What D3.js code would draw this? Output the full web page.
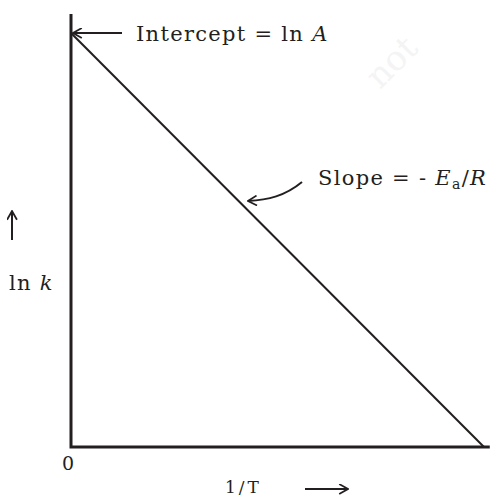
<!DOCTYPE html>
<html>
  <head>
    <meta charset="utf-8">
    <title>Arrhenius plot</title>
    <script src="https://d3js.org/d3.v7.min.js"></script>
    <style>
      body { margin: 0; background: #fff; }
      text { font-family: "DejaVu Serif", "Liberation Serif", serif; fill: #231f20; }
    </style>
  </head>
  <body>
    <div id="chart"></div>
    <script>
      // data (arbitrary units)
      const invT = [0, 1];          // 1/T
      const lnK = [1, 0];           // ln k, intercept = ln A at 1/T = 0
      const xExtent = [0, 1.014];   // x axis runs slightly past the line end
      const yExtent = [0, 1.046];   // y axis runs above the intercept
      const origin = "0";

      const width = 490, height = 497;
      const svg = d3.select("#chart")
        .append("svg")
        .attr("width", width)
        .attr("height", height);

      const xScale = d3.scaleLinear().domain([0, 1]).range([71, 484]);
      const yScale = d3.scaleLinear().domain([0, 1]).range([447, 33]);
      const ink = "#231f20";

      svg.append("defs").append("marker")
        .attr("id", "head")
        .attr("viewBox", "0 0 10 10")
        .attr("refX", 9).attr("refY", 5)
        .attr("markerWidth", 11).attr("markerHeight", 11)
        .attr("markerUnits", "userSpaceOnUse")
        .attr("orient", "auto")
        .append("path")
        .attr("d", "M1,0.5 L9,5 L1,9.5")
        .attr("fill", "none")
        .attr("stroke", ink)
        .attr("stroke-width", 1.6);

      // faint watermark
      svg.append("text")
        .attr("transform", "translate(380,90) rotate(-45)")
        .attr("font-family", "Roboto, sans-serif")
        .attr("font-size", 34)
        .style("fill", "#f4f4f4")
        .text("not");

      // axes
      svg.append("path")
        .attr("d", d3.line()([[xScale(0), yScale(yExtent[1])], [xScale(0), yScale(0)], [xScale(xExtent[1]), yScale(0)]]))
        .attr("fill", "none")
        .attr("stroke", ink)
        .attr("stroke-width", 3);

      // the straight line
      svg.append("path")
        .datum(invT.map((x, i) => [x, lnK[i]]))
        .attr("d", d3.line().x(d => xScale(d[0])).y(d => yScale(d[1])))
        .attr("fill", "none")
        .attr("stroke", ink)
        .attr("stroke-width", 2);

      // intercept annotation
      svg.append("line")
        .attr("x1", 122).attr("y1", yScale(lnK[0]))
        .attr("x2", xScale(0) + 2).attr("y2", yScale(lnK[0]))
        .attr("stroke", ink).attr("stroke-width", 2)
        .attr("marker-end", "url(#head)");
      const ic = svg.append("text")
        .attr("x", 136).attr("y", yScale(lnK[0]) + 8)
        .attr("font-size", 21)
        .attr("letter-spacing", 1.3);
      ic.append("tspan").text("Intercept = ln ");
      ic.append("tspan").attr("font-style", "italic").text("A");

      // slope annotation
      svg.append("path")
        .attr("d", "M302,182 C285,196 268,200 248,201")
        .attr("fill", "none")
        .attr("stroke", ink).attr("stroke-width", 2)
        .attr("marker-end", "url(#head)");
      const sl = svg.append("text")
        .attr("x", 318).attr("y", 185)
        .attr("font-size", 21)
        .attr("letter-spacing", 1.3);
      sl.append("tspan").text("Slope = - ");
      sl.append("tspan").attr("font-style", "italic").text("E");
      sl.append("tspan").attr("font-size", 14).attr("dy", 4).text("a");
      sl.append("tspan").attr("dy", -4).text("/");
      sl.append("tspan").attr("font-style", "italic").text("R");

      // axis labels
      const yl = svg.append("text")
        .attr("x", 9).attr("y", 290)
        .attr("font-size", 21)
        .attr("letter-spacing", 1.3);
      yl.append("tspan").text("ln ");
      yl.append("tspan").attr("font-style", "italic").text("k");
      svg.append("line")
        .attr("x1", 12).attr("y1", 240).attr("x2", 12).attr("y2", 211)
        .attr("stroke", ink).attr("stroke-width", 2)
        .attr("marker-end", "url(#head)");

      svg.append("text")
        .attr("x", xScale(0) - 3).attr("y", 470)
        .attr("text-anchor", "middle")
        .attr("font-size", 19)
        .text(origin);

      svg.append("text")
        .attr("x", 225).attr("y", 493)
        .attr("font-size", 17)
        .attr("letter-spacing", 3)
        .text("1/T");
      svg.append("line")
        .attr("x1", 305).attr("y1", 489).attr("x2", 348).attr("y2", 489)
        .attr("stroke", ink).attr("stroke-width", 2)
        .attr("marker-end", "url(#head)");
    </script>
  </body>
</html>
